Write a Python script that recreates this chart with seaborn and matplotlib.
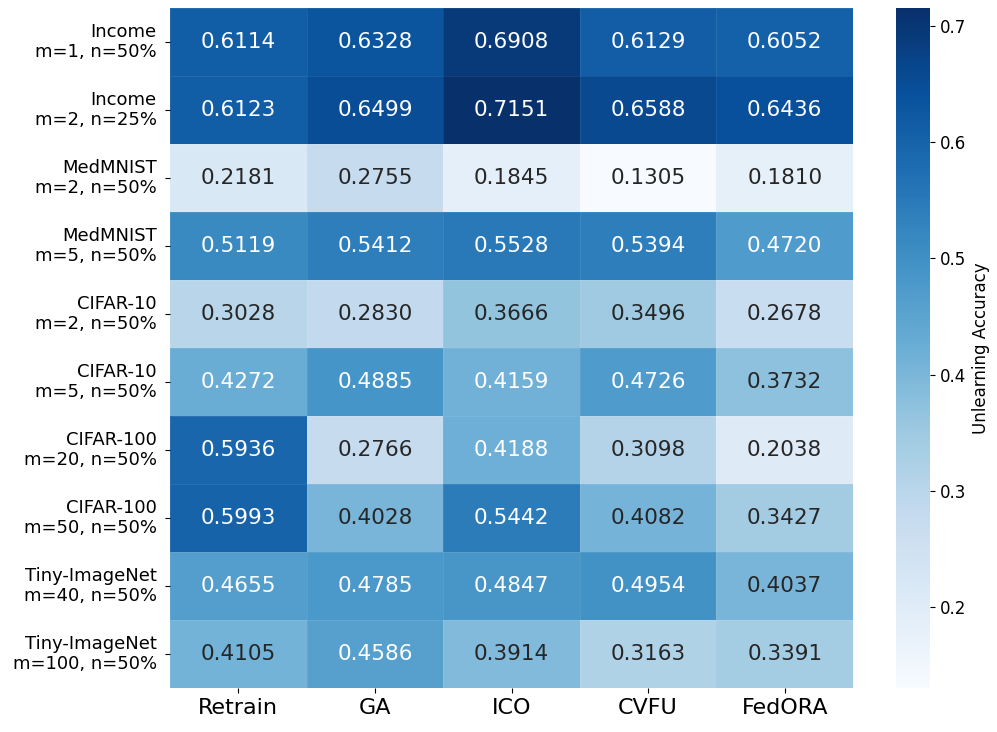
import numpy as np
import pandas as pd
import seaborn as sns
import matplotlib
matplotlib.use('Agg')
import matplotlib.pyplot as plt

# rows / columns of the table
row_labels = ['Income\nm=1, n=50%', 'Income\nm=2, n=25%', 'MedMNIST\nm=2, n=50%',
              'MedMNIST\nm=5, n=50%', 'CIFAR-10\nm=2, n=50%', 'CIFAR-10\nm=5, n=50%',
              'CIFAR-100\nm=20, n=50%', 'CIFAR-100\nm=50, n=50%',
              'Tiny-ImageNet\nm=40, n=50%', 'Tiny-ImageNet\nm=100, n=50%']
methods = ['Retrain', 'GA', 'ICO', 'CVFU', 'FedORA']

retrain = [0.6114, 0.6123, 0.2181, 0.5119, 0.3028, 0.4272, 0.5936, 0.5993, 0.4655, 0.4105]
ga = [0.6328, 0.6499, 0.2755, 0.5412, 0.2830, 0.4885, 0.2766, 0.4028, 0.4785, 0.4586]
ico = [0.6908, 0.7151, 0.1845, 0.5528, 0.3666, 0.4159, 0.4188, 0.5442, 0.4847, 0.3914]
cvfu = [0.6129, 0.6588, 0.1305, 0.5394, 0.3496, 0.4726, 0.3098, 0.4082, 0.4954, 0.3163]
fedora = [0.6052, 0.6436, 0.1810, 0.4720, 0.2678, 0.3732, 0.2038, 0.3427, 0.4037, 0.3391]

df = pd.DataFrame({'Retrain': retrain, 'GA': ga, 'ICO': ico, 'CVFU': cvfu, 'FedORA': fedora},
                  index=row_labels)

fig = plt.figure(figsize=(9.97, 7.32), dpi=100)
ax = fig.add_axes([170/997, 1-688/732, (853-170)/997, (688-8)/732])
cax = fig.add_axes([896/997, 1-688/732, 34/997, (688-8)/732])

sns.heatmap(df, annot=True, fmt='.4f', cmap='Blues', ax=ax, cbar_ax=cax,
            annot_kws={'fontsize': 15.5}, linewidths=0.5, linecolor=(1, 1, 1, 0.08),
            cbar_kws={'label': 'Unlearning Accuracy'})

ax.tick_params(axis='x', labelsize=16, rotation=0)
ax.tick_params(axis='y', labelsize=13, rotation=0, pad=6)
for t in ax.get_yticklabels():
    t.set_horizontalalignment('right')
    t.set_multialignment('right')
cax.tick_params(labelsize=12)
cax.yaxis.label.set_size(12)

fig.savefig('out.png', dpi=100)
